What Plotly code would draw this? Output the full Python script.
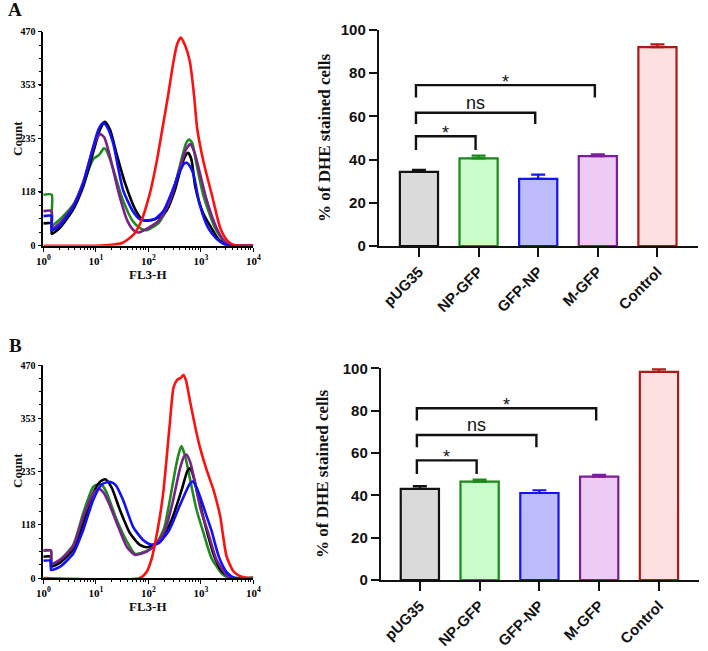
import plotly.graph_objects as go

W, H = 708, 651

# ---------------- data ----------------
CATEGORIES = ["pUG35", "NP-GFP", "GFP-NP", "M-GFP", "Control"]
A_MEAN = [34.3, 40.6, 31.1, 41.6, 92.1]
A_SEM = [1.0, 1.2, 1.9, 0.8, 1.2]
B_MEAN = [43.0, 46.5, 41.1, 48.8, 98.3]
B_SEM = [1.3, 0.9, 1.3, 0.9, 1.3]

SIG_PAIRS = [(0, 1), (0, 2), (0, 3)]
SIG_LABELS = ["*", "ns", "*"]
A_SIG_TOP = [50.8, 61.7, 74.5]
A_SIG_LEG = [44.4, 56.5, 68.8]
B_SIG_TOP = [56.5, 68.5, 81.1]
B_SIG_LEG = [50.1, 62.7, 75.3]

BAR_YTICKS = [0, 20, 40, 60, 80, 100]
HIST_YTICKS = [0, 118, 235, 353, 470]
HIST_XTICKS = [1, 10, 100, 1000, 10000]
HIST_XTICKTEXT = ["10<sup>0</sup>", "10<sup>1</sup>", "10<sup>2</sup>", "10<sup>3</sup>", "10<sup>4</sup>"]

# Histograms: log10(FL3-H) positions and counts
A_BLACK_LOG = [0, 0.16, 0.16, 0.32, 0.57, 0.76, 0.95, 1.08, 1.17, 1.27, 1.4, 1.55, 1.75, 1.9, 2.05, 2.2, 2.35, 2.5, 2.62, 2.7, 2.76, 2.82, 2.89, 2.97, 3.05, 3.2, 3.35, 3.5, 3.6, 4.0]
A_BLACK_CNT = [49, 49, 26, 40, 80, 130, 205, 255, 272, 255, 200, 140, 80, 56, 56, 62, 78, 120, 170, 196, 204, 190, 132, 95, 70, 39, 12, 2, 0, 0]
A_BLUE_LOG = [0, 0.16, 0.16, 0.32, 0.57, 0.76, 0.95, 1.05, 1.14, 1.22, 1.33, 1.52, 1.71, 1.84, 2.0, 2.12, 2.29, 2.48, 2.6, 2.68, 2.73, 2.79, 2.86, 2.98, 3.14, 3.3, 3.45, 3.55, 4.0]
A_BLUE_CNT = [65, 65, 34, 45, 86, 137, 217, 255, 270, 260, 225, 122, 75, 58, 56, 58, 77, 127, 163, 180, 182, 175, 157, 90, 39, 15, 3, 0, 0]
A_PURPLE_LOG = [0, 0.16, 0.16, 0.32, 0.57, 0.76, 0.95, 1.03, 1.09, 1.16, 1.25, 1.45, 1.6, 1.72, 1.81, 1.95, 2.2, 2.4, 2.6, 2.72, 2.8, 2.88, 2.95, 3.1, 3.3, 3.45, 3.58, 4.0]
A_PURPLE_CNT = [76, 76, 38, 50, 88, 140, 215, 238, 245, 238, 205, 110, 55, 34, 29, 36, 55, 95, 170, 212, 223, 205, 175, 105, 39, 10, 0, 0]
A_GREEN_LOG = [0, 0.16, 0.16, 0.32, 0.57, 0.76, 0.95, 1.05, 1.1, 1.15, 1.2, 1.3, 1.5, 1.7, 1.85, 1.97, 2.1, 2.2, 2.4, 2.6, 2.72, 2.78, 2.84, 2.9, 3.05, 3.27, 3.45, 3.58, 4.0]
A_GREEN_CNT = [112, 112, 45, 58, 90, 135, 190, 198, 205, 214, 210, 180, 105, 55, 38, 34, 42, 50, 90, 175, 225, 233, 225, 190, 110, 39, 8, 0, 0]
A_RED_LOG = [0, 1.0, 1.3, 1.5, 1.7, 1.85, 2.03, 2.16, 2.27, 2.38, 2.48, 2.55, 2.62, 2.7, 2.79, 2.87, 2.93, 3.05, 3.21, 3.37, 3.5, 3.6, 3.75, 4.0]
A_RED_CNT = [0, 0, 2, 6, 22, 50, 115, 185, 258, 332, 405, 443, 457, 440, 405, 332, 258, 185, 112, 39, 12, 3, 0, 0]

B_BLACK_LOG = [0, 0.147, 0.147, 0.32, 0.57, 0.76, 0.95, 1.08, 1.18, 1.3, 1.46, 1.65, 1.84, 1.97, 2.13, 2.3, 2.45, 2.65, 2.74, 2.79, 2.85, 2.95, 3.11, 3.25, 3.4, 3.55, 3.65, 4.0]
B_BLACK_CNT = [47, 47, 25, 34, 63, 121, 187, 212, 218, 200, 150, 99, 73, 68, 76, 95, 130, 200, 235, 242, 228, 180, 106, 50, 15, 3, 0, 0]
B_BLUE_LOG = [0, 0.147, 0.147, 0.32, 0.57, 0.76, 0.95, 1.1, 1.2, 1.28, 1.38, 1.52, 1.71, 1.9, 2.05, 2.2, 2.4, 2.6, 2.79, 2.84, 2.9, 3.0, 3.1, 3.2, 3.35, 3.5, 3.65, 4.0]
B_BLUE_CNT = [38, 38, 18, 25, 54, 106, 172, 205, 211, 212, 205, 172, 113, 84, 74, 77, 106, 160, 208, 213, 205, 175, 140, 106, 45, 12, 0, 0]
B_PURPLE_LOG = [0, 0.147, 0.147, 0.32, 0.57, 0.76, 0.95, 1.02, 1.08, 1.15, 1.25, 1.4, 1.59, 1.75, 1.97, 2.13, 2.3, 2.45, 2.6, 2.68, 2.73, 2.8, 2.9, 3.0, 3.14, 3.3, 3.5, 3.6, 4.0]
B_PURPLE_CNT = [61, 61, 31, 40, 70, 135, 187, 194, 196, 188, 165, 121, 69, 51, 58, 73, 100, 160, 240, 268, 272, 255, 205, 150, 100, 40, 5, 0, 0]
B_GREEN_LOG = [0, 0.147, 0.147, 0.32, 0.57, 0.76, 0.95, 1.05, 1.12, 1.2, 1.4, 1.59, 1.75, 1.97, 2.15, 2.3, 2.4, 2.5, 2.57, 2.63, 2.7, 2.8, 2.92, 3.05, 3.2, 3.4, 3.55, 4.0]
B_GREEN_CNT = [60, 60, 30, 40, 73, 143, 201, 207, 205, 190, 128, 81, 53, 60, 75, 110, 165, 230, 270, 291, 270, 215, 150, 100, 45, 10, 0, 0]
B_RED_LOG = [0, 1.84, 1.97, 2.07, 2.13, 2.22, 2.29, 2.41, 2.48, 2.55, 2.62, 2.67, 2.72, 2.79, 2.9, 2.98, 3.11, 3.24, 3.3, 3.37, 3.49, 3.62, 3.75, 3.9, 4.0]
B_RED_CNT = [0, 0, 14, 45, 77, 135, 194, 341, 420, 437, 442, 448, 435, 393, 330, 290, 239, 195, 170, 136, 48, 15, 4, 0, 0]

# ---------------- styles ----------------
BAR_FILL = ["#dadada", "#c9fcc9", "#bcbcfc", "#ecccf4", "#fde0e0"]
BAR_EDGE = ["#111111", "#178a17", "#1414f0", "#7d1d9e", "#b01818"]
CURVE_COL = {"green": "#1f8a1f", "black": "#000000", "purple": "#7a1f8c",
             "blue": "#1010ff", "red": "#ff1010"}
SERIF = "Liberation Serif, Times New Roman, serif"
SANS = "Liberation Sans, Arial, sans-serif"


def dom_x(a, b):
    return [a / W, b / W]


def dom_y(top, bottom):
    return [1 - bottom / H, 1 - top / H]


fig = go.Figure()

hist_sets = [
    ("x", "y", [("green", A_GREEN_LOG, A_GREEN_CNT), ("black", A_BLACK_LOG, A_BLACK_CNT),
                ("purple", A_PURPLE_LOG, A_PURPLE_CNT), ("blue", A_BLUE_LOG, A_BLUE_CNT),
                ("red", A_RED_LOG, A_RED_CNT)]),
    ("x3", "y3", [("green", B_GREEN_LOG, B_GREEN_CNT), ("black", B_BLACK_LOG, B_BLACK_CNT),
                  ("purple", B_PURPLE_LOG, B_PURPLE_CNT), ("blue", B_BLUE_LOG, B_BLUE_CNT),
                  ("red", B_RED_LOG, B_RED_CNT)]),
]
for xa, ya, curves in hist_sets:
    for col, lg, cnt in curves:
        fig.add_trace(go.Scatter(
            x=[10 ** v for v in lg], y=cnt, mode="lines", xaxis=xa, yaxis=ya,
            line=dict(color=CURVE_COL[col], width=2.6, shape="spline", smoothing=0.6),
            showlegend=False, hoverinfo="skip"))

bar_sets = [("x2", "y2", A_MEAN, A_SEM, A_SIG_TOP, A_SIG_LEG),
            ("x4", "y4", B_MEAN, B_SEM, B_SIG_TOP, B_SIG_LEG)]
annotations = []
for xa, ya, means, sems, tops, legs in bar_sets:
    for i, (m, s) in enumerate(zip(means, sems)):
        fig.add_trace(go.Bar(
            x=[i], y=[m], width=0.64, xaxis=xa, yaxis=ya,
            marker=dict(color=BAR_FILL[i], line=dict(color=BAR_EDGE[i], width=2.2)),
            error_y=dict(type="data", symmetric=False, array=[s], arrayminus=[0],
                         color=BAR_EDGE[i], thickness=2.2, width=7),
            showlegend=False, hoverinfo="skip"))
    off = -0.05
    for (a, b), lab, top, leg in zip(SIG_PAIRS, SIG_LABELS, tops, legs):
        fig.add_trace(go.Scatter(
            x=[a + off, a + off, b + off, b + off], y=[leg, top, top, leg],
            mode="lines", xaxis=xa, yaxis=ya,
            line=dict(color="#111111", width=2.4),
            showlegend=False, hoverinfo="skip"))
        annotations.append(dict(
            x=(a + b) / 2 + off, y=top, xref=xa, yref=ya, text=lab, showarrow=False,
            yanchor="middle", yshift=(10 if lab == "ns" else 3),
            font=dict(family=SANS, size=18, color="#111111")))

hist_x = dict(type="log", range=[0, 4], tickmode="array", tickvals=HIST_XTICKS,
              ticktext=HIST_XTICKTEXT, ticks="outside", ticklen=4, tickwidth=1.2,
              tickcolor="black", showline=True, linecolor="black", linewidth=1.6,
              showgrid=False, zeroline=False, automargin=False,
              tickfont=dict(family=SERIF, size=11, color="black", weight="bold"),
              minor=dict(ticks="outside", ticklen=2.5, tickwidth=1, tickcolor="black",
                         dtick="D1", showgrid=False))
hist_y = dict(range=[0, 470], tickmode="array", tickvals=HIST_YTICKS, ticks="outside",
              ticklen=4, tickwidth=1.2, tickcolor="black", showline=True,
              linecolor="black", linewidth=1.6, showgrid=False, zeroline=False,
              automargin=False,
              tickfont=dict(family=SERIF, size=10, color="black", weight="bold"),
              minor=dict(ticks="outside", ticklen=2.5, tickwidth=1, tickcolor="black",
                         tick0=0, dtick=470 / 16, showgrid=False))
bar_x = dict(tickmode="array", tickvals=list(range(len(CATEGORIES))), ticktext=CATEGORIES,
             tickangle=-45, ticks="outside", ticklen=9, tickwidth=2.4, tickcolor="#111111",
             showline=True, linecolor="#111111", linewidth=2.4, showgrid=False,
             zeroline=False, automargin=False,
             tickfont=dict(family=SANS, size=15, color="#111111", weight="bold"))
bar_y = dict(range=[0, 100], tickmode="array", tickvals=BAR_YTICKS, ticks="outside",
             ticklen=8, tickwidth=2.4, tickcolor="#111111", showline=True,
             linecolor="#111111", linewidth=2.4, showgrid=False, zeroline=False,
             automargin=False,
             tickfont=dict(family=SANS, size=15, color="#111111", weight="bold"))

fig.update_layout(
    width=W, height=H, margin=dict(l=0, r=0, t=0, b=0, autoexpand=False),
    paper_bgcolor="white", plot_bgcolor="white", barmode="overlay",
    xaxis=dict(hist_x, domain=dom_x(43.3, 253.3), anchor="y"),
    yaxis=dict(hist_y, domain=dom_y(31.7, 245.7), anchor="x"),
    xaxis3=dict(hist_x, domain=dom_x(43.3, 253.3), anchor="y3"),
    yaxis3=dict(hist_y, domain=dom_y(365, 578), anchor="x3"),
    xaxis2=dict(bar_x, domain=dom_x(379, 698), range=[-0.67, 4.68], anchor="y2"),
    yaxis2=dict(bar_y, domain=dom_y(30, 246), anchor="x2"),
    xaxis4=dict(bar_x, domain=dom_x(381, 699), range=[-0.65, 4.67], anchor="y4"),
    yaxis4=dict(bar_y, domain=dom_y(368.3, 580), anchor="x4"),
)

# panel letters and axis titles
texts = [
    ("A", 15, 10, 0, 19, SERIF), ("B", 15, 346, 0, 19, SERIF),
    ("Count", 17, 139, -90, 13, SERIF), ("FL3-H", 148, 274, 0, 13, SERIF),
    ("Count", 17, 471, -90, 13, SERIF), ("FL3-H", 148, 606, 0, 13, SERIF),
    ("% of DHE stained cells", 325, 138, -90, 17, SERIF),
    ("% of DHE stained cells", 323, 474, -90, 17, SERIF),
]
for t, px, py, ang, sz, fam in texts:
    annotations.append(dict(x=px / W, y=1 - py / H, xref="paper", yref="paper", text=t,
                            showarrow=False, textangle=ang, xanchor="center",
                            yanchor="middle",
                            font=dict(family=fam, size=sz, color="#111111", weight="bold")))
fig.update_layout(annotations=annotations)

fig.write_html("out.html", config={"displayModeBar": False},
               post_script="document.body.style.margin='0';document.body.style.padding='0';")
